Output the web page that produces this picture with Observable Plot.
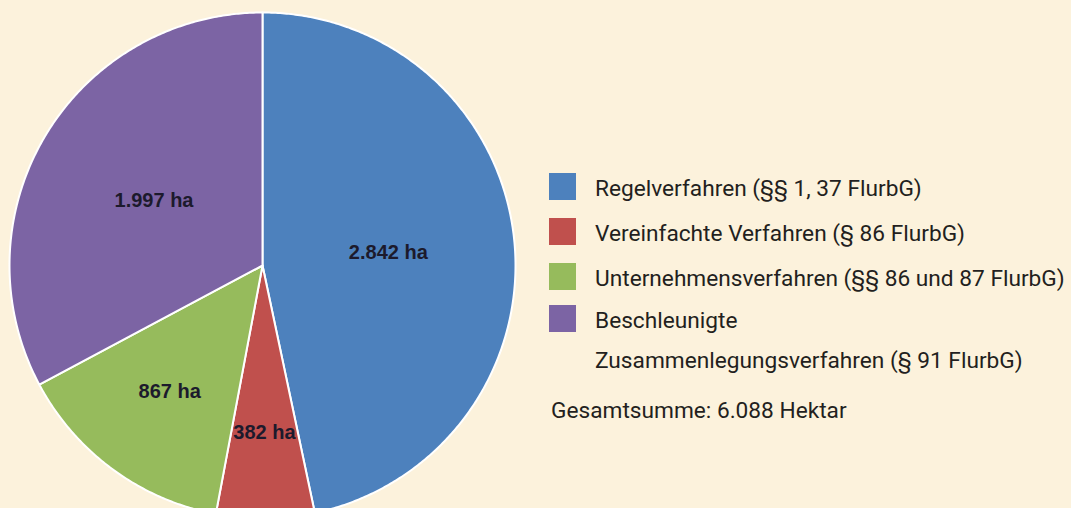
<!DOCTYPE html>
<html>
<head>
<meta charset="utf-8">
<script src="https://cdn.jsdelivr.net/npm/d3@7"></script>
<script src="https://cdn.jsdelivr.net/npm/@observablehq/plot@0.6"></script>
<style>
  html, body { margin: 0; padding: 0; background: #fcf2dc; }
  #wrap { position: relative; width: 1071px; height: 508px; overflow: hidden; background: #fcf2dc; }
  #legend { position: absolute; left: 0; top: 0; }
</style>
</head>
<body>
<div id="wrap"></div>
<script>
// ---- data ----
const categories = [
  "Regelverfahren (§§ 1, 37 FlurbG)",
  "Vereinfachte Verfahren (§ 86 FlurbG)",
  "Unternehmensverfahren (§§ 86 und 87 FlurbG)",
  "Beschleunigte\nZusammenlegungsverfahren (§ 91 FlurbG)"
];
const values = [2842, 382, 867, 1997];
const unit = "ha";
const totalLabel = "Gesamtsumme: 6.088 Hektar";
const colors = ["#4d81bd", "#c0504d", "#96bb5c", "#7c64a4"];

// ---- layout ----
const W = 1071, H = 508;
const cx = 262, cy = 265, R = 253;          // pie centre and radius in pixels
const labelRadius = [0.5, 0.66, 0.62, 0.5]; // label distance (fraction of radius)

const de = d3.formatLocale({decimal: ",", thousands: ".", grouping: [3], currency: ["", " €"]});
const fmt = de.format(",");

const arcs = d3.pie().sort(null).value(d => d)(values);

// polygon outlines of each slice, in unit-circle coordinates (y up)
const slicePts = [];
arcs.forEach((a, i) => {
  const key = categories[i];
  slicePts.push({key, x: 0, y: 0});
  const n = Math.max(2, Math.ceil((a.endAngle - a.startAngle) / (Math.PI / 360)));
  for (let k = 0; k <= n; k++) {
    const t = a.startAngle + (a.endAngle - a.startAngle) * k / n;
    slicePts.push({key, x: Math.sin(t), y: Math.cos(t)});
  }
  slicePts.push({key, x: 0, y: 0});
});

const labels = arcs.map((a, i) => {
  const m = (a.startAngle + a.endAngle) / 2;
  return {x: labelRadius[i] * Math.sin(m), y: labelRadius[i] * Math.cos(m), text: `${fmt(values[i])} ${unit}`};
});

const chart = Plot.plot({
  width: W, height: H,
  margin: 0,
  style: {background: "transparent", overflow: "hidden"},
  x: {domain: [-cx / R, (W - cx) / R], axis: null},
  y: {domain: [-(H - cy) / R, cy / R], axis: null},
  color: {domain: categories, range: colors},
  marks: [
    Plot.line(slicePts, {x: "x", y: "y", z: "key", fill: "key", stroke: "white", strokeWidth: 2, strokeLinejoin: "round", clip: true}),
    Plot.text(labels, {x: "x", y: "y", text: "text", fontSize: 20, fontWeight: "bold", fontFamily: "Liberation Sans, Arial, sans-serif", fill: "#1c1a2c"})
  ]
});
document.getElementById("wrap").appendChild(chart);

// ---- legend (overlay) ----
const legendFont = "Roboto, 'Liberation Sans', sans-serif";
const ctx = document.createElement("canvas").getContext("2d");
ctx.font = `20px ${legendFont}`;
const longest = categories[2];
const fs = 20 * 470 / ctx.measureText(longest).width;

const lx = 549, tx = 595, sw = 27;
const baselines = [196, 241, 286, 328];
const svg = d3.select("#wrap").append("svg")
  .attr("id", "legend").attr("width", W).attr("height", H)
  .style("font-family", legendFont).style("font-size", fs + "px");

categories.forEach((c, i) => {
  svg.append("rect").attr("x", lx).attr("y", baselines[i] - 23).attr("width", sw).attr("height", sw).attr("fill", colors[i]);
  c.split("\n").forEach((line, j) => {
    svg.append("text").attr("x", tx).attr("y", baselines[i] + j * 40).attr("fill", "#231f20").text(line);
  });
});
svg.append("text").attr("x", 551).attr("y", 418).attr("fill", "#231f20").text(totalLabel);
</script>
</body>
</html>
